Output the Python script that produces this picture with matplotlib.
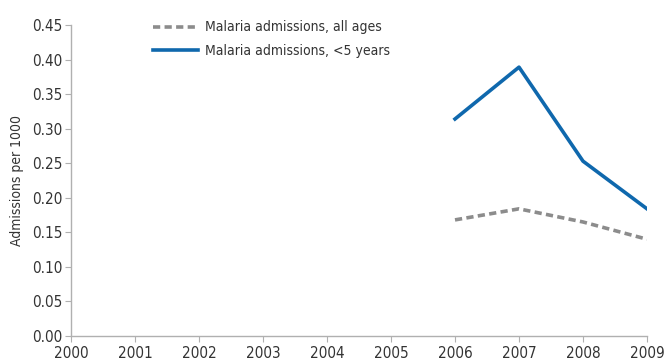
import matplotlib.pyplot as plt

plt.rcParams['font.family'] = ['DejaVu Sans']
plt.rcParams['font.stretch'] = 'condensed'

years = [2000, 2001, 2002, 2003, 2004, 2005, 2006, 2007, 2008, 2009]
data_years = [2006, 2007, 2008, 2009]
all_ages = [0.168, 0.184, 0.165, 0.140]
under_five = [0.314, 0.389, 0.253, 0.184]
yticks = [0.00, 0.05, 0.10, 0.15, 0.20, 0.25, 0.30, 0.35, 0.40, 0.45]

fig = plt.figure(figsize=(6.64, 3.63), dpi=100)
ax = fig.add_axes([71/664, 27/363, (647-71)/664, (336-25)/363])

ax.plot(data_years, all_ages, color='#8c8c8c', lw=2.6, ls=(0, (2.0, 1.2)),
        label='Malaria admissions, all ages')
ax.plot(data_years, under_five, color='#0f68ad', lw=2.6,
        label='Malaria admissions, <5 years')

ax.set_xlim(2000, 2009)
ax.set_ylim(0, 0.45)
ax.set_xticks(years)
ax.set_yticks(yticks)
ax.set_yticklabels([f'{v:.2f}' for v in yticks])
ax.set_ylabel('Admissions per 1000', fontsize=10, color='#333333', labelpad=6)

for s in ['top', 'right']:
    ax.spines[s].set_visible(False)
for s in ['left', 'bottom']:
    ax.spines[s].set_color('#b0b0b0')
    ax.spines[s].set_linewidth(1.0)
ax.tick_params(colors='#b0b0b0', labelcolor='#333333', labelsize=11, length=4)
ax.tick_params(axis='x', pad=3)
ax.tick_params(axis='y', pad=2)

leg = ax.legend(loc='upper left', bbox_to_anchor=(0.12, 1.055), frameon=False,
                fontsize=10, handlelength=3.3, labelspacing=0.7, handletextpad=0.5)
for t in leg.get_texts():
    t.set_color('#333333')

fig.savefig('out.png', dpi=100)
